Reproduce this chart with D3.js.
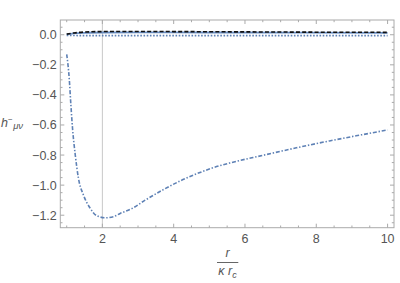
<!DOCTYPE html>
<html><head><meta charset="utf-8">
<script src="https://cdn.jsdelivr.net/npm/d3@7"></script>
<style>body{margin:0;background:#fff}svg{display:block}</style>
</head><body>
<svg id="c" width="400" height="283"></svg>
<script>
// Data
const dashDotX = [1.0, 1.07, 1.117, 1.163, 1.24, 1.33, 1.47, 1.66, 1.84, 2.08, 2.31, 2.5, 2.82, 3.2, 3.71, 4.2, 4.64, 5.1, 5.57, 6.5, 7.44, 8.37, 9.3, 10.0];
const dashDotY = [-0.13, -0.29, -0.467, -0.622, -0.80, -0.955, -1.066, -1.154, -1.203, -1.217, -1.21, -1.188, -1.157, -1.1, -1.03, -0.97, -0.925, -0.885, -0.853, -0.802, -0.752, -0.706, -0.664, -0.633];
const dashedX = [1.0, 1.2, 1.5, 2.0, 3.0, 4.0, 6.0, 8.0, 10.0];
const dashedY = [0.004, 0.012, 0.018, 0.021, 0.022, 0.021, 0.019, 0.017, 0.016];
const solidX = [1.0, 1.2, 1.5, 2.0, 3.0, 5.0, 10.0];
const solidY = [0.002, 0.009, 0.013, 0.015, 0.016, 0.015, 0.013];
const dottedX = [1.0, 1.5, 3.0, 10.0];
const dottedY = [-0.004, -0.006, -0.006, -0.006];
const xTicks = [2, 4, 6, 8, 10];
const yTicks = [-1.2, -1.0, -0.8, -0.6, -0.4, -0.2, 0.0];

const svg = d3.select("#c");
const L = 60.3, R = 394, T = 20, B = 227.7;
const x = d3.scaleLinear().domain([0.82, 10.18]).range([L, R]);
const y = d3.scaleLinear().domain([-1.283, 0.098]).range([B, T]);
const frameCol = "#aaa", labelCol = "#555";
const font = "'Liberation Sans', Arial, sans-serif";

// gridline at x=2
svg.append("line").attr("x1", x(2)).attr("x2", x(2)).attr("y1", T).attr("y2", B)
  .attr("stroke", "#c8c8c8").attr("stroke-width", 1);

// frame
svg.append("rect").attr("x", L).attr("y", T).attr("width", R - L).attr("height", B - T)
  .attr("fill", "none").attr("stroke", frameCol).attr("stroke-width", 1);

// ticks
const xMinor = d3.range(1, 10.01, 0.5).filter(v => !xTicks.some(t => Math.abs(t - v) < 1e-6));
const yMinor = d3.range(-1.25, 0.06, 0.05).map(v => +v.toFixed(2)).filter(v => !yTicks.some(t => Math.abs(t - v) < 1e-6));
const tg = svg.append("g").attr("stroke", frameCol).attr("stroke-width", 1);
xTicks.forEach(v => {
  tg.append("line").attr("x1", x(v)).attr("x2", x(v)).attr("y1", B).attr("y2", B - 4);
  tg.append("line").attr("x1", x(v)).attr("x2", x(v)).attr("y1", T).attr("y2", T + 4);
});
xMinor.forEach(v => {
  tg.append("line").attr("x1", x(v)).attr("x2", x(v)).attr("y1", B).attr("y2", B - 2.2);
  tg.append("line").attr("x1", x(v)).attr("x2", x(v)).attr("y1", T).attr("y2", T + 2.2);
});
yTicks.forEach(v => {
  tg.append("line").attr("y1", y(v)).attr("y2", y(v)).attr("x1", L).attr("x2", L + 4);
  tg.append("line").attr("y1", y(v)).attr("y2", y(v)).attr("x1", R).attr("x2", R - 4);
});
yMinor.forEach(v => {
  tg.append("line").attr("y1", y(v)).attr("y2", y(v)).attr("x1", L).attr("x2", L + 2.2);
  tg.append("line").attr("y1", y(v)).attr("y2", y(v)).attr("x1", R).attr("x2", R - 2.2);
});

// tick labels
const fmtY = v => (v < 0 ? "\u2212" : "") + Math.abs(v).toFixed(1);
svg.append("g").selectAll("text").data(xTicks).join("text")
  .attr("x", d => x(d)).attr("y", B + 15.5).attr("text-anchor", "middle")
  .attr("font-family", font).attr("font-size", 12.5).attr("fill", labelCol).text(d => d);
svg.append("g").selectAll("text").data(yTicks).join("text")
  .attr("x", L - 3.5).attr("y", d => y(d) + 4.5).attr("text-anchor", "end")
  .attr("font-family", font).attr("font-size", 12.5).attr("fill", labelCol).text(fmtY);

// curves
const line = d3.line().x(d => x(d[0])).y(d => y(d[1])).curve(d3.curveMonotoneX);
const zip = (a, b) => a.map((v, i) => [v, b[i]]);
const blue = "#5e81b5";
svg.append("path").datum(zip(dottedX, dottedY)).attr("d", line).attr("fill", "none")
  .attr("stroke", blue).attr("stroke-width", 1.6).attr("stroke-dasharray", "1.6,1.6");
svg.append("path").datum(zip(solidX, solidY)).attr("d", line).attr("fill", "none")
  .attr("stroke", "#6a8fc4").attr("stroke-width", 1.8);
svg.append("path").datum(zip(dashedX, dashedY)).attr("d", line).attr("fill", "none")
  .attr("stroke", "#111").attr("stroke-width", 1.6).attr("stroke-dasharray", "4,2.2");
svg.append("path").datum(zip(dashDotX, dashDotY)).attr("d", line).attr("fill", "none")
  .attr("stroke", blue).attr("stroke-width", 1.6).attr("stroke-dasharray", "4,1.8,1.4,1.8");

// y axis label h^- _{μν}
const yl = svg.append("text").attr("x", 1).attr("y", 127).attr("font-family", font)
  .attr("fill", labelCol).attr("font-size", 12.5);
yl.append("tspan").attr("font-style", "italic").text("h");
yl.append("tspan").attr("font-size", 8).attr("dy", -5).text("\u2212");
yl.append("tspan").attr("font-size", 9.5).attr("font-style", "italic").attr("dy", 7).attr("dx", 0.5).text("\u03bc\u03bd");

// x axis label r / (κ r_c)
const cx = 227.5;
svg.append("text").attr("x", cx).attr("y", 257).attr("text-anchor", "middle")
  .attr("font-family", font).attr("font-size", 12.5).attr("font-style", "italic").attr("fill", labelCol).text("r");
svg.append("line").attr("x1", 217).attr("x2", 238.3).attr("y1", 262.5).attr("y2", 262.5)
  .attr("stroke", labelCol).attr("stroke-width", 0.9);
const xl = svg.append("text").attr("x", cx).attr("y", 275).attr("text-anchor", "middle")
  .attr("font-family", font).attr("font-size", 12.5).attr("font-style", "italic").attr("fill", labelCol);
xl.append("tspan").text("\u03ba r");
xl.append("tspan").attr("font-size", 9).attr("dy", 3).text("c");
</script>
</body></html>
